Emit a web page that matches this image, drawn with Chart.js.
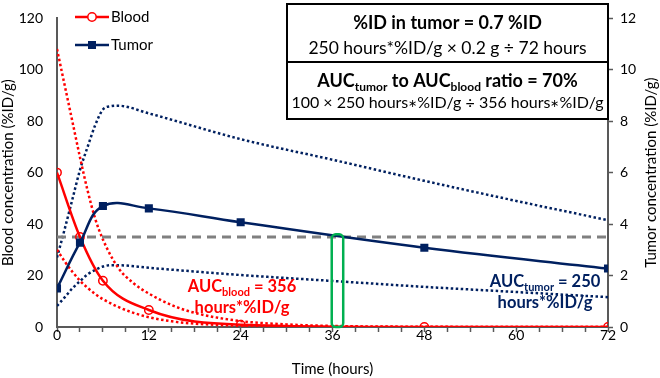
<!DOCTYPE html>
<html>
<head>
<meta charset="utf-8">
<script src="https://cdn.jsdelivr.net/npm/chart.js@4.4.0/dist/chart.umd.min.js"></script>
<style>
  html, body { margin: 0; padding: 0; background: #fff; }
  #wrap { width: 660px; height: 378px; }
</style>
</head>
<body>
<div id="wrap"><canvas id="pkChart" width="660" height="378"></canvas></div>
<script>
// Sampled time points (hours) and measured concentrations
const sampleTimes = [0, 3, 6, 12, 24, 48, 72];
const bloodConc = [60, 35, 18, 6.6, 0.9, 0, 0];              // %ID/g, left axis
const tumorConc = [1.5, 3.28, 4.7, 4.61, 4.07, 3.08, 2.27];  // %ID/g, right axis

// Dotted range curves for blood (left axis)
const bloodBandTimes = [0, 1, 2, 3, 4, 5, 6, 8, 10, 12, 15, 18, 24, 30, 36, 48, 60, 72];
const bloodUpper = [108, 94, 80, 66, 53, 42, 34, 23, 17, 13, 8.5, 5.5, 2.3, 1, 0.4, 0.1, 0, 0];
const bloodLower = [30, 25.5, 21.5, 18, 15.2, 12.8, 10.8, 7.8, 5.5, 3.8, 2.2, 1.3, 0.5, 0.2, 0.1, 0, 0, 0];

// Dotted range curves for tumor (right axis)
const tumorBandTimes = [0, 1, 2, 3, 4, 5, 6, 7, 8, 12, 24, 36, 48, 60, 72];
const tumorUpper = [2.7, 3.8, 4.95, 6.1, 7.0, 7.85, 8.45, 8.58, 8.6, 8.3, 7.3, 6.5, 5.68, 4.9, 4.15];
const tumorLower = [0.82, 1.15, 1.5, 1.78, 2.05, 2.22, 2.35, 2.4, 2.4, 2.3, 2.02, 1.79, 1.56, 1.36, 1.16];

// Dashed reference level and the highlighted sample window
const refTimes = [0, 72];
const refLevel = [35, 35];
const highlightTimes = [35.9, 37.4];
const highlightTop = 36;

const FONT = 'Lato, "Open Sans", sans-serif';
const RED = '#FF0000';
const NAVY = '#002060';
const AXIS = '#595959';

function toXY(xs, ys) {
    return xs.map((x, i) => ({ x: x, y: ys[i] }));
}

// Draw a line of mixed text runs (used for subscripts), centred on cx
function drawRuns(ctx, runs, cx, y, color) {
    let total = 0;
    runs.forEach(r => {
        ctx.font = r.font;
        r.w = ctx.measureText(r.text).width;
        total += r.w;
    });
    let x = cx - total / 2;
    ctx.fillStyle = color;
    ctx.textAlign = 'left';
    ctx.textBaseline = 'alphabetic';
    runs.forEach(r => {
        ctx.font = r.font;
        ctx.fillText(r.text, x, y + (r.dy || 0));
        x += r.w;
    });
}

// Green outline box around the 36 h sample
const highlightPlugin = {
    id: 'highlight',
    afterDatasetsDraw(chart) {
        const ctx = chart.ctx;
        const xs = chart.scales.x, ys = chart.scales.y;
        const x0 = xs.getPixelForValue(highlightTimes[0]);
        const x1 = xs.getPixelForValue(highlightTimes[1]);
        const y0 = ys.getPixelForValue(highlightTop);
        const y1 = ys.getPixelForValue(0);
        ctx.save();
        ctx.strokeStyle = '#00B050';
        ctx.lineWidth = 2.5;
        ctx.beginPath();
        ctx.roundRect(x0, y0, x1 - x0, y1 - y0, 4);
        ctx.stroke();
        ctx.restore();
    }
};

// Legend, AUC labels, right axis title and the summary boxes
const annotationPlugin = {
    id: 'annotations',
    afterDraw(chart) {
        const ctx = chart.ctx;
        const area = chart.chartArea;
        ctx.save();

        // legend
        ctx.lineWidth = 2.5;
        ctx.strokeStyle = RED;
        ctx.beginPath(); ctx.moveTo(75, 17); ctx.lineTo(109, 17); ctx.stroke();
        ctx.fillStyle = '#fff';
        ctx.lineWidth = 1.5;
        ctx.beginPath(); ctx.arc(92, 17, 4.2, 0, Math.PI * 2); ctx.fill(); ctx.stroke();
        ctx.strokeStyle = NAVY;
        ctx.lineWidth = 2.5;
        ctx.beginPath(); ctx.moveTo(75, 45); ctx.lineTo(109, 45); ctx.stroke();
        ctx.fillStyle = NAVY;
        ctx.fillRect(88, 41, 8, 8);
        ctx.fillStyle = '#000';
        ctx.font = '15px ' + FONT;
        ctx.textBaseline = 'middle';
        ctx.textAlign = 'left';
        ctx.fillText('Blood', 111, 17);
        ctx.fillText('Tumor', 111, 45);

        // right axis title, reading bottom to top
        ctx.save();
        ctx.translate(651, (area.top + area.bottom) / 2);
        ctx.rotate(-Math.PI / 2);
        ctx.textAlign = 'center';
        ctx.textBaseline = 'middle';
        ctx.font = '15px ' + FONT;
        ctx.fillStyle = '#000';
        ctx.fillText('Tumor concentration (%ID/g)', 0, 0);
        ctx.restore();

        // AUC labels
        const big = 'bold 16.5px ' + FONT;
        const sub = 'bold 11px ' + FONT;
        drawRuns(ctx, [
            { text: 'AUC', font: big },
            { text: 'blood', font: sub, dy: 4 },
            { text: ' = 356', font: big }
        ], 242, 292, RED);
        drawRuns(ctx, [{ text: 'hours*%ID/g', font: big }], 242, 313, RED);
        drawRuns(ctx, [
            { text: 'AUC', font: big },
            { text: 'tumor', font: sub, dy: 4 },
            { text: ' = 250', font: big }
        ], 545, 287, NAVY);
        drawRuns(ctx, [{ text: 'hours*%ID/g', font: big }], 545, 308, NAVY);

        // summary boxes
        const bx0 = 287, bx1 = area.right, by0 = 4, bmid = 62, by1 = 119;
        ctx.fillStyle = '#fff';
        ctx.fillRect(bx0, by0, bx1 - bx0, by1 - by0);
        ctx.strokeStyle = '#000';
        ctx.lineWidth = 2;
        ctx.strokeRect(bx0, by0, bx1 - bx0, by1 - by0);
        ctx.beginPath(); ctx.moveTo(bx0, bmid); ctx.lineTo(bx1, bmid); ctx.stroke();
        const cx = (bx0 + bx1) / 2;
        const bold = 'bold 18px ' + FONT;
        const boldSub = 'bold 12px ' + FONT;
        const reg = '17.5px ' + FONT;
        const reg2 = '16px ' + FONT;
        const star = '11px ' + FONT;
        drawRuns(ctx, [{ text: '%ID in tumor = 0.7 %ID', font: bold }], cx, 29, '#000');
        drawRuns(ctx, [{ text: '250 hours*%ID/g \u00d7 0.2 g \u00f7 72 hours', font: reg }], cx, 54, '#000');
        drawRuns(ctx, [
            { text: 'AUC', font: bold },
            { text: 'tumor', font: boldSub, dy: 4 },
            { text: ' to AUC', font: bold },
            { text: 'blood', font: boldSub, dy: 4 },
            { text: ' ratio = 70%', font: bold }
        ], cx, 87, '#000');
        drawRuns(ctx, [
            { text: '100 \u00d7 250 hours', font: reg2 },
            { text: '\u2217', font: star, dy: -1 },
            { text: '%ID/g \u00f7 356 hours', font: reg2 },
            { text: '\u2217', font: star, dy: -1 },
            { text: '%ID/g', font: reg2 }
        ], cx, 108, '#000');

        ctx.restore();
    }
};

const tickFont = { family: FONT, size: 14, lineHeight: 0.6 };
const titleFont = { family: FONT, size: 15, lineHeight: 1.07 };

const ctx = document.getElementById('pkChart');
new Chart(ctx, {
    type: 'line',
    data: {
        datasets: [{
            label: 'Tumor',
            data: toXY(sampleTimes, tumorConc),
            yAxisID: 'y2',
            borderColor: NAVY,
            borderWidth: 2.5,
            tension: 0.4,
            pointStyle: 'rect',
            pointRadius: 5.7,
            pointBackgroundColor: NAVY,
            pointBorderColor: NAVY,
            pointBorderWidth: 0,
            order: 0
        }, {
            label: 'Blood',
            data: toXY(sampleTimes, bloodConc),
            yAxisID: 'y',
            borderColor: RED,
            borderWidth: 2.5,
            cubicInterpolationMode: 'monotone',
            pointStyle: 'circle',
            pointRadius: 4.2,
            pointBackgroundColor: 'rgba(0,0,0,0)',
            pointBorderColor: RED,
            pointBorderWidth: 1.5,
            order: 1
        }, {
            label: 'Reference',
            data: toXY(refTimes, refLevel),
            yAxisID: 'y',
            borderColor: '#808080',
            borderWidth: 3,
            borderDash: [9, 6],
            pointRadius: 0,
            order: 2
        }, {
            label: 'Blood upper',
            data: toXY(bloodBandTimes, bloodUpper),
            yAxisID: 'y',
            borderColor: RED,
            borderWidth: 2.5,
            borderDash: [2.5, 2.5],
            cubicInterpolationMode: 'monotone',
            pointRadius: 0,
            order: 3
        }, {
            label: 'Blood lower',
            data: toXY(bloodBandTimes, bloodLower),
            yAxisID: 'y',
            borderColor: RED,
            borderWidth: 2.5,
            borderDash: [2.5, 2.5],
            cubicInterpolationMode: 'monotone',
            pointRadius: 0,
            order: 3
        }, {
            label: 'Tumor upper',
            data: toXY(tumorBandTimes, tumorUpper),
            yAxisID: 'y2',
            borderColor: NAVY,
            borderWidth: 2.5,
            borderDash: [2.5, 2.5],
            cubicInterpolationMode: 'monotone',
            pointRadius: 0,
            order: 3
        }, {
            label: 'Tumor lower',
            data: toXY(tumorBandTimes, tumorLower),
            yAxisID: 'y2',
            borderColor: NAVY,
            borderWidth: 2.5,
            borderDash: [2.5, 2.5],
            cubicInterpolationMode: 'monotone',
            pointRadius: 0,
            order: 3
        }]
    },
    options: {
        responsive: false,
        animation: false,
        devicePixelRatio: 1,
        events: [],
        layout: { padding: { top: 5, left: 0, right: 0, bottom: 0 } },
        plugins: {
            legend: { display: false },
            tooltip: { enabled: false }
        },
        scales: {
            x: {
                type: 'linear',
                position: 'bottom',
                min: 0,
                max: 72,
                afterFit: s => { s.height = 51; },
                ticks: {
                    stepSize: 3,
                    autoSkip: false,
                    maxRotation: 0,
                    padding: -1,
                    color: '#000',
                    font: tickFont,
                    callback: v => (v % 12 === 0 ? v : '')
                },
                grid: { drawOnChartArea: false, tickLength: 5, tickColor: AXIS, tickWidth: 1.5 },
                border: { color: AXIS, width: 2 },
                title: { display: true, text: 'Time (hours)', color: '#000', font: titleFont, padding: { top: 0, bottom: 1 } }
            },
            y: {
                position: 'left',
                min: 0,
                max: 120,
                afterFit: s => { s.width = 57; },
                ticks: { stepSize: 20, padding: 14, color: '#000', font: tickFont },
                grid: { drawOnChartArea: false, drawTicks: false },
                border: { color: AXIS, width: 2 },
                title: { display: true, text: 'Blood concentration (%ID/g)', color: '#000', font: titleFont, padding: 0 }
            },
            y2: {
                position: 'right',
                min: 0,
                max: 12,
                afterFit: s => { s.width = 52; },
                ticks: { stepSize: 2, padding: 7, color: '#000', font: tickFont },
                grid: { drawOnChartArea: false, tickLength: 5, tickColor: AXIS, tickWidth: 1.5 },
                border: { color: AXIS, width: 2 },
                title: { display: false }
            }
        }
    },
    plugins: [highlightPlugin, annotationPlugin]
});
</script>
</body>
</html>
